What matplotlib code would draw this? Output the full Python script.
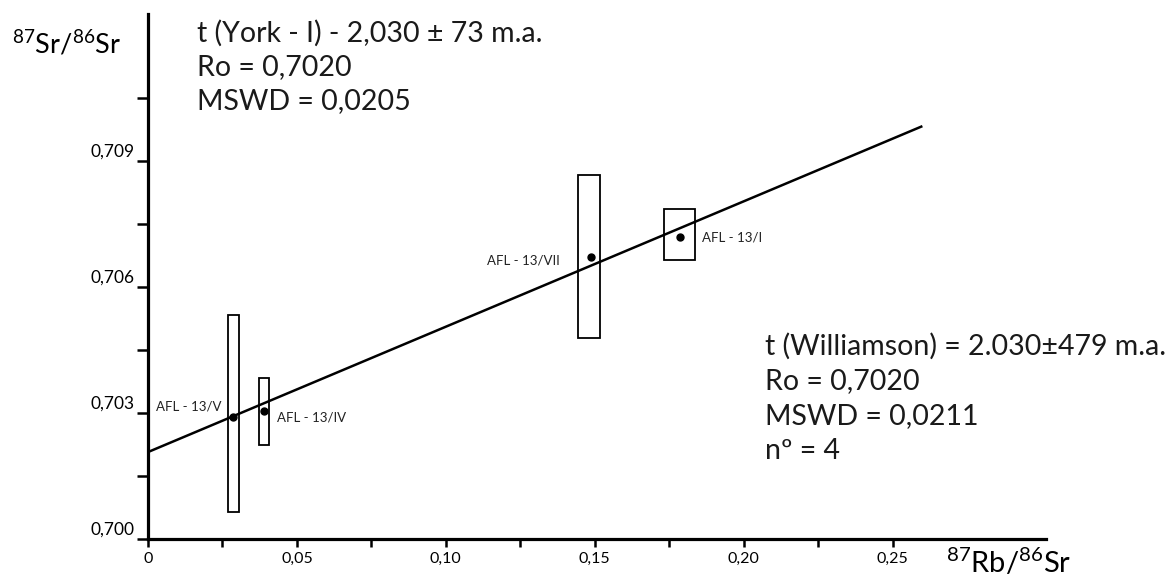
import matplotlib
matplotlib.use('Agg')
import matplotlib.pyplot as plt
from matplotlib.patches import Rectangle
from matplotlib.transforms import ScaledTranslation

# sample points (87Rb/86Sr, 87Sr/86Sr) and their error boxes
samples = ['AFL - 13/V', 'AFL - 13/IV', 'AFL - 13/VII', 'AFL - 13/I']
rb_sr = [0.0285, 0.0389, 0.1487, 0.1785]
sr_sr = [0.7029, 0.70305, 0.70671, 0.70719]
box_xmin = [0.0268, 0.0373, 0.1443, 0.1732]
box_xmax = [0.0304, 0.0407, 0.1517, 0.1836]
box_ymin = [0.70064, 0.70224, 0.70479, 0.70664]
box_ymax = [0.70533, 0.70383, 0.70867, 0.70786]

# isochron line
iso_x = [0.0, 0.26]
iso_y = [0.70207, 0.70983]

xticks = [0, 0.05, 0.10, 0.15, 0.20, 0.25]
xtick_labels = ['0', '0,05', '0,10', '0,15', '0,20', '0,25']
xminor = [0.025, 0.075, 0.125, 0.175, 0.225]
yticks = [0.700, 0.703, 0.706, 0.709]
ytick_labels = ['0,700', '0,703', '0,706', '0,709']
yminor = [0.7015, 0.7045, 0.7075, 0.7105]

york_text = ['t (York - I) - 2,030 ± 73 m.a.', 'Ro = 0,7020', 'MSWD = 0,0205']
williamson_text = ['t (Williamson) = 2.030±479 m.a.', 'Ro = 0,7020',
                   'MSWD = 0,0211', 'nº = 4']

FONT = 'Lato'
plt.rcParams['font.family'] = [FONT, 'DejaVu Sans']
plt.rcParams['mathtext.fontset'] = 'custom'
plt.rcParams['mathtext.rm'] = FONT

W, H = 1167, 580
fig = plt.figure(figsize=(W / 100, H / 100), dpi=100)
ax = fig.add_axes([148 / W, 41 / H, (1046 - 148) / W, (539 - 14) / H])

ax.set_xlim(0, 0.3015)
ax.set_ylim(0.700, 0.7125)

for side in ['top', 'right']:
    ax.spines[side].set_visible(False)
for side in ['left', 'bottom']:
    ax.spines[side].set_linewidth(2.3)

# isochron
ax.plot(iso_x, iso_y, color='black', lw=1.8, solid_capstyle='butt')

# error boxes
for x0, x1, y0, y1 in zip(box_xmin, box_xmax, box_ymin, box_ymax):
    ax.add_patch(Rectangle((x0, y0), x1 - x0, y1 - y0, fill=False,
                           edgecolor='black', lw=1.3))

ax.plot(rb_sr, sr_sr, 'o', color='black', markersize=5, zorder=5)

# sample labels (offsets in pixels)
offsets = [(-11, 11, 'right'), (13, -7, 'left'), (-31, -3, 'right'), (22, 0, 'left')]
for name, x, y, (dx, dy, ha) in zip(samples, rb_sr, sr_sr, offsets):
    ax.annotate(name, (x, y), xytext=(dx, dy), textcoords='offset pixels',
                ha=ha, va='center', fontsize=9.5, color='#222222')

# ticks
ax.set_xticks(xticks)
ax.set_xticklabels(xtick_labels, fontsize=11.5)
ax.set_xticks(xminor, minor=True)
ax.set_yticks(yticks)
ax.set_yticklabels(ytick_labels, fontsize=12.5)
ax.set_yticks(yminor, minor=True)
ax.tick_params(axis='x', which='both', length=5.8, width=1.8, pad=3.5)
ax.tick_params(axis='y', which='both', length=7.9, width=1.8, pad=1.5)
for lab in ax.get_yticklabels():
    lab.set_transform(lab.get_transform() + ScaledTranslation(0, 0.11, fig.dpi_scale_trans))

# axis titles
fig.text(12 / W, 1 - 44 / H, r'$\mathregular{^{87}}$Sr/$\mathregular{^{86}}$Sr',
         fontsize=19.5, ha='left', va='center')
fig.text(946 / W, 1 - 578 / H, r'$\mathregular{^{87}}$Rb/$\mathregular{^{86}}$Sr',
         fontsize=21, ha='left', va='bottom')

# annotations
for i, line in enumerate(york_text):
    fig.text(197 / W, 1 - (33 + 34 * i) / H, line, fontsize=20.5,
             ha='left', va='center', color='#1a1a1a')
for i, line in enumerate(williamson_text):
    fig.text(765 / W, 1 - (346 + 35 * i) / H, line, fontsize=20.5,
             ha='left', va='center', color='#1a1a1a')

fig.savefig('out.png', dpi=100)
